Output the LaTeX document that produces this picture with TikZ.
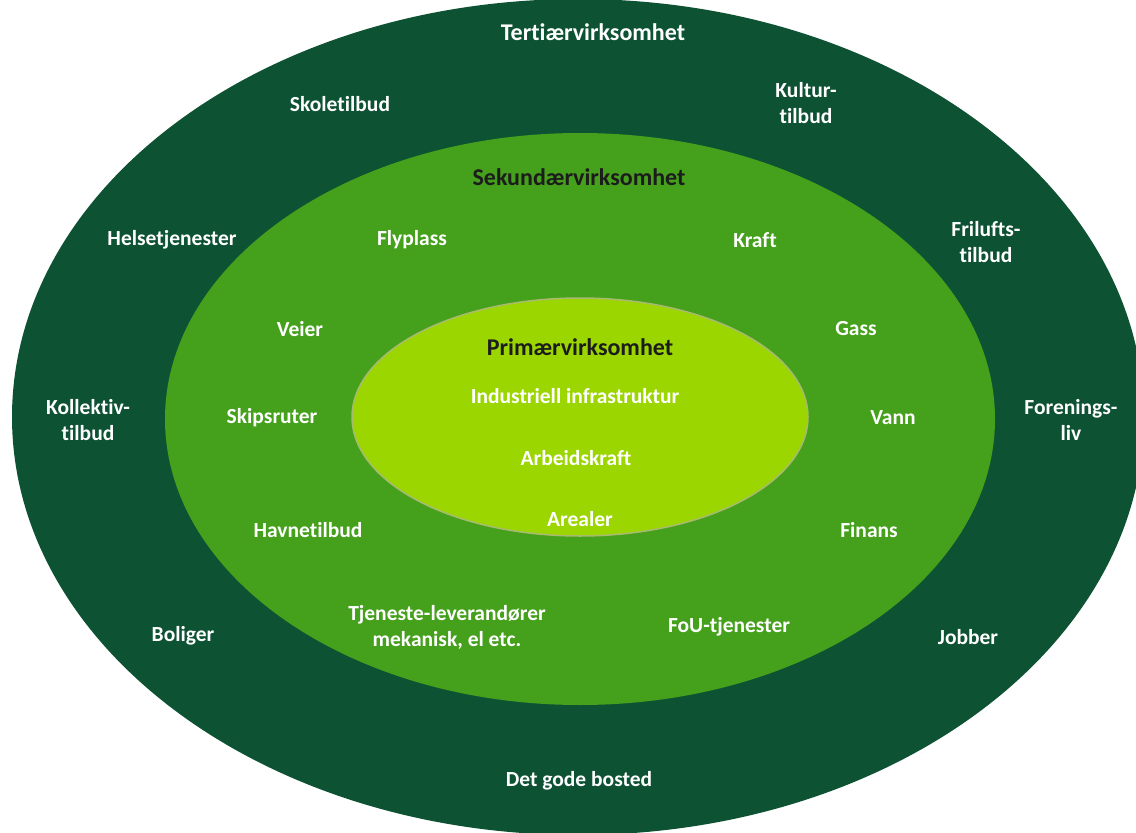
\documentclass[tikz,border=0pt]{standalone}
\usepackage{fontspec}
\setmainfont[Ligatures=NoCommon]{Carlito}
\definecolor{tertgreen}{RGB}{14,82,52}
\definecolor{sekgreen}{RGB}{69,160,28}
\definecolor{primgreen}{RGB}{155,214,0}
\definecolor{primrim}{RGB}{168,186,112}
\definecolor{headdark}{RGB}{28,28,28}
\tikzset{
    lbl/.style={text=white, font=\bfseries\fontsize{21.5}{26}\selectfont, align=center, inner sep=0pt},
    head/.style={lbl, font=\bfseries\fontsize{24}{28}\selectfont}
}
\begin{document}
\begin{tikzpicture}[x=1pt, y=-1pt]
    \useasboundingbox (0,0) rectangle (1136,833);
    \clip (0,0) rectangle (1136,833);
    % the three rings
    \fill[tertgreen] (578,417) ellipse (566pt and 418pt);
    \fill[sekgreen] (580,419) ellipse (415pt and 286pt);
    \filldraw[fill=primgreen, draw=primrim, line width=1.5pt] (580,417) ellipse (228pt and 119pt);
    % ring titles
    \node[head] (tert) at (593,32) {Tertiærvirksomhet};
    \node[head, text=headdark] (sek) at (579,177) {Sekundærvirksomhet};
    \node[head, text=headdark] (prim) at (580,347) {Primærvirksomhet};
    % outer ring
    \foreach \x/\y/\t/\n in {
        340/104/{Skoletilbud}/skole,
        806/103/{Kultur-\\tilbud}/kultur,
        172/240/{Helsetjenester}/helse,
        986/242/{Frilufts-\\tilbud}/friluft,
        88/420/{Kollektiv-\\tilbud}/kollektiv,
        1071/420/{Forenings-\\liv}/forening,
        183/636/{Boliger}/boliger,
        968/637/{Jobber}/jobber,
        579/781/{Det gode bosted}/bosted} {
        \node[lbl] (\n) at (\x,\y) {\t};
    };
    % middle ring
    \foreach \x/\y/\t/\n in {
        412/240/{Flyplass}/flyplass,
        755/240/{Kraft}/kraft,
        300/329/{Veier}/veier,
        856/329/{Gass}/gass,
        272/418/{Skipsruter}/skip,
        893/418/{Vann}/vann,
        308/530/{Havnetilbud}/havn,
        869/530/{Finans}/finans,
        447/627/{Tjeneste-leverandører\\mekanisk, el etc.}/tjeneste,
        729/627/{FoU-tjenester}/fou} {
        \node[lbl] (\n) at (\x,\y) {\t};
    };
    % inner ring
    \node[lbl] (infra) at (575,396) {Industriell infrastruktur};
    \node[lbl] (arbeid) at (576,458) {Arbeidskraft};
    \node[lbl] (areal) at (580,519) {Arealer};
\end{tikzpicture}
\end{document}
